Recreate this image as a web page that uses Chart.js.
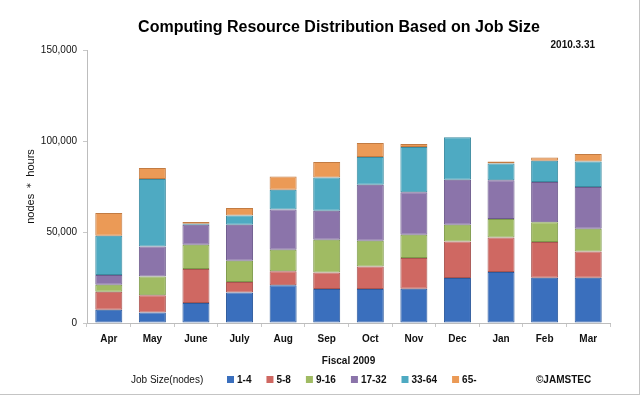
<!DOCTYPE html>
<html>
<head>
<meta charset="utf-8">
<title>Computing Resource Distribution</title>
<script src="https://cdn.jsdelivr.net/npm/chart.js@4.4.1/dist/chart.umd.min.js"></script>
<style>
  html, body { margin: 0; padding: 0; background: #fff; }
  #wrap { width: 639px; height: 394px; border-right: 1px solid #c4c4c4; border-bottom: 1px solid #c4c4c4; }
</style>
</head>
<body>
<div id="wrap"><canvas id="myChart" width="639" height="394"></canvas></div>
<script>
// data (nodes * hours, in thousands)
var months = ['Apr', 'May', 'June', 'July', 'Aug', 'Sep', 'Oct', 'Nov', 'Dec', 'Jan', 'Feb', 'Mar'];
var jobSizes = ['1-4', '5-8', '9-16', '17-32', '33-64', '65-'];
var size1to4   = [7.3, 5.8, 11.0, 16.8, 20.7, 18.7, 18.7, 18.8, 24.7, 28.0, 24.9, 24.9];
var size5to8   = [9.9, 9.4, 18.7, 5.7, 7.7, 9.1, 12.4, 16.9, 20.1, 19.0, 19.6, 14.4];
var size9to16  = [3.8, 10.4, 13.3, 11.7, 11.9, 18.0, 14.1, 12.8, 9.2, 10.1, 10.8, 12.5];
var size17to32 = [5.4, 16.5, 11.0, 19.8, 22.0, 15.9, 30.8, 23.3, 24.7, 21.3, 22.2, 22.9];
var size33to64 = [21.6, 37.0, 0.5, 5.1, 10.9, 18.3, 15.2, 24.9, 23.3, 9.3, 11.7, 14.1];
var size65up   = [12.4, 6.1, 1.0, 4.1, 7.3, 8.5, 7.7, 1.7, 0, 1.1, 1.8, 4.1];
var yTicks = [0, 50000, 100000, 150000];

var fillColors = ['#3a6fbd', '#cf6862', '#a0bb63', '#8b74aa', '#4eaac2', '#eb9a56'];
var edgeColors = ['#2d5a9c', '#a85450', '#7e9a4a', '#6c5a8c', '#3b8ba0', '#c27b42'];
var seriesList = [size1to4, size5to8, size9to16, size17to32, size33to64, size65up];
var fontFamily = '"Liberation Sans", Arial, sans-serif';

var datasets = seriesList.map(function (values, i) {
  return {
    label: jobSizes[i],
    data: values.map(function (v) { return v * 1000; }),
    backgroundColor: fillColors[i],
    borderColor: edgeColors[i],
    borderWidth: 1,
    borderSkipped: false,
    categoryPercentage: 0.62,
    barPercentage: 1
  };
});

// title, legend row, date and copyright drawn after the chart
var extras = {
  id: 'extras',
  afterDraw: function (chart) {
    var ctx = chart.ctx;
    ctx.save();
    ctx.fillStyle = '#000';
    ctx.textAlign = 'center';
    ctx.textBaseline = 'alphabetic';
    ctx.font = 'bold 16px ' + fontFamily;
    ctx.fillText('Computing Resource Distribution Based on Job Size', 339, 32);

    ctx.fillStyle = '#111';
    ctx.textBaseline = 'middle';
    ctx.font = 'bold 10px ' + fontFamily;
    ctx.textAlign = 'right';
    ctx.fillText('2010.3.31', 595, 45);

    ctx.textAlign = 'left';
    ctx.font = '10px ' + fontFamily;
    ctx.fillText('Job Size(nodes)', 131, 380);

    var x = 227;
    ctx.font = 'bold 10px ' + fontFamily;
    jobSizes.forEach(function (name, i) {
      ctx.fillStyle = fillColors[i];
      ctx.fillRect(x, 376, 7, 7);
      ctx.fillStyle = '#111';
      ctx.fillText(name, x + 10, 380);
      x += 10 + ctx.measureText(name).width + 15;
    });

    ctx.font = 'bold 10px ' + fontFamily;
    ctx.fillText('\u00a9JAMSTEC', 536, 380);
    ctx.restore();
  }
};

var ctx = document.getElementById('myChart').getContext('2d');
var chart = new Chart(ctx, {
  type: 'bar',
  data: { labels: months, datasets: datasets },
  plugins: [extras],
  options: {
    responsive: false,
    animation: false,
    layout: { padding: { left: 24, right: 29, top: 50, bottom: 27 } },
    plugins: {
      legend: { display: false },
      tooltip: { enabled: false },
      title: { display: false }
    },
    scales: {
      x: {
        stacked: true,
        grid: { display: true, drawOnChartArea: false, offset: true, tickLength: 4, color: '#c8c8c8' },
        border: { color: '#bdbdbd' },
        ticks: { color: '#111', font: { family: fontFamily, size: 10, weight: 'bold' }, padding: 6 },
        title: {
          display: true,
          text: 'Fiscal 2009',
          color: '#111',
          font: { family: fontFamily, size: 10, weight: 'bold' },
          padding: { top: 4, bottom: 0 }
        },
        afterFit: function (scale) { scale.height = 44; }
      },
      y: {
        stacked: true,
        min: 0,
        max: 150000,
        afterBuildTicks: function (scale) {
          scale.ticks = yTicks.map(function (v) { return { value: v }; });
        },
        grid: { display: true, drawOnChartArea: false, tickLength: 4, color: '#c8c8c8' },
        border: { color: '#bdbdbd' },
        ticks: {
          color: '#111',
          font: { family: fontFamily, size: 10 },
          padding: 6,
          callback: function (v) { return v.toLocaleString('en-US'); }
        },
        title: {
          display: true,
          text: 'nodes \uff0a hours',
          color: '#111',
          font: { family: fontFamily, size: 11 },
          padding: { top: 0, bottom: 0 }
        },
        afterFit: function (scale) { scale.width = 63; }
      }
    }
  }
});
</script>
</body>
</html>
